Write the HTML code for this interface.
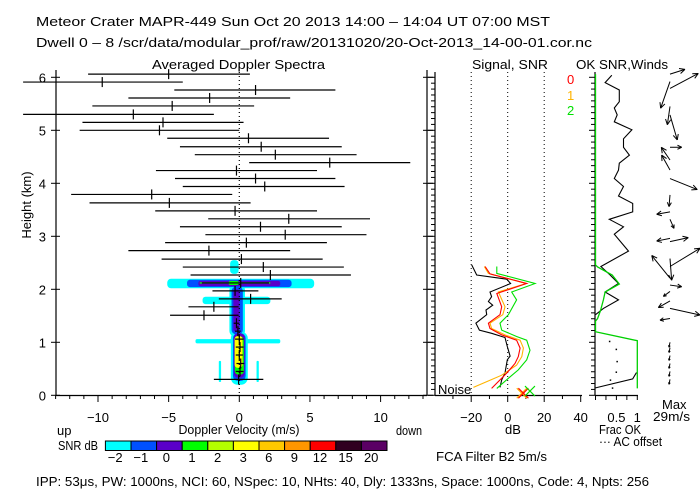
<!DOCTYPE html>
<html><head><meta charset="utf-8"><style>
html,body{margin:0;padding:0;background:#fff;}
svg{display:block;font-family:"Liberation Sans",sans-serif;}
text{fill:#000;font-size:13px;}
</style></head><body>
<svg id="chart" width="700" height="500" viewBox="0 0 700 500" xmlns="http://www.w3.org/2000/svg">
<rect x="0" y="0" width="700" height="500" fill="#fff"/>
<text x="36" y="26" textLength="514" lengthAdjust="spacingAndGlyphs" font-size="14">Meteor Crater   MAPR-449   Sun Oct 20 2013 14:00  –  14:04 UT 07:00 MST</text>
<text x="36" y="47" textLength="556" lengthAdjust="spacingAndGlyphs" font-size="14">Dwell   0  –   8    /scr/data/modular_prof/raw/20131020/20-Oct-2013_14-00-01.cor.nc</text>
<text x="152" y="69" textLength="173" lengthAdjust="spacingAndGlyphs" font-size="14">Averaged Doppler Spectra</text>
<text x="472" y="69" textLength="76" lengthAdjust="spacingAndGlyphs" font-size="14">Signal, SNR</text>
<text x="576" y="69" textLength="92" lengthAdjust="spacingAndGlyphs" font-size="14">OK SNR,Winds</text>
<g id="plots"></g>
<text x="239" y="434" text-anchor="middle" textLength="121" lengthAdjust="spacingAndGlyphs">Doppler Velocity (m/s)</text>
<text x="57" y="435">up</text>
<text x="396" y="435" textLength="26" lengthAdjust="spacingAndGlyphs">down</text>
<text x="505" y="434">dB</text>
<text x="599" y="434" textLength="42" lengthAdjust="spacingAndGlyphs">Frac OK</text>
<text x="599" y="446" textLength="63" lengthAdjust="spacingAndGlyphs">··· AC offset</text>
<text x="662" y="409">Max</text>
<text x="653" y="421" textLength="37" lengthAdjust="spacingAndGlyphs">29m/s</text>
<text x="58" y="450" textLength="40" lengthAdjust="spacingAndGlyphs">SNR dB</text>
<text x="436" y="461" textLength="111" lengthAdjust="spacingAndGlyphs">FCA Filter B2   5m/s</text>
<text x="36" y="486" textLength="613" lengthAdjust="spacingAndGlyphs">IPP:  53μs,  PW: 1000ns,  NCI:  60,  NSpec: 10, NHts: 40,  Dly: 1333ns,  Space: 1000ns,  Code: 4,  Npts: 256</text>
<text x="0" y="0" transform="translate(31,205) rotate(-90)" text-anchor="middle">Height (km)</text>
<text x="438" y="394">Noise</text>
</svg>
<script>
// ---- data ----
var barHeights=[6.06,5.91,5.76,5.61,5.46,5.30,5.15,5.00,4.85,4.69,4.54,4.39,4.24,4.09,3.94,3.79,3.63,3.48,3.33,3.18,3.03,2.88,2.73,2.57,2.42,2.27,2.12,1.97,1.82,1.67,1.51,1.36,1.21,1.06,0.91,0.76,0.60,0.45,0.30];
var barCenters=[-5.0,-9.7,1.15,-2.1,-4.75,-7.5,-5.4,-5.65,0.65,1.55,2.55,6.4,-0.2,1.15,1.8,-6.2,-4.95,-0.3,3.5,1.5,3.25,0.5,-2.15,0.15,1.7,2.2,0.1,-0.3,0.8,-1.8,-2.5,-0.2,-0.1,0.0,0.05,0.0,0.1,0.05,-0.05];
var barLefts=[-10.7,-15.3,-4.6,-7.85,-10.4,-15.3,-11.1,-11.3,-5.1,-4.2,-3.15,0.7,-5.9,-4.55,-4.0,-11.9,-10.6,-5.95,-2.2,-4.2,-2.4,-5.25,-7.85,-5.5,-4.0,-3.45,-2.65,-1.9,-1.45,-3.6,-4.9,-0.4,-0.3,-0.3,-0.25,-0.25,-0.2,-0.25,-1.8];
var barRights=[0.75,-4.0,6.8,3.6,1.05,-1.8,0.3,0.0,6.35,7.25,8.3,12.1,5.5,6.8,7.45,-0.5,0.8,5.5,9.25,7.25,9.0,6.2,3.6,5.9,7.4,7.9,2.1,1.35,3.0,-0.05,-0.05,0.0,0.1,0.3,0.3,0.25,0.35,0.3,1.7];
var velTicks=[-10,-5,0,5,10];
var heightTicks=[0,1,2,3,4,5,6];
var dbTicks=[-20,0,20,40];
var fracTicks=[0.5,1];
var snrLevels=["-2","-1","0","1","2","3","6","9","12","15","20"];
var snrColors=["#00ffff","#0050ff","#5a00c8","#00ff00","#b4ff00","#ffff00","#ffc800","#ff9600","#ff0000","#300020","#5a0064"];
// contour blobs: velocity, height, half-width, half-height, level index
var blobV=[0.1,-0.35,-0.2,-0.15,-0.1,0.0,-1.37,1.3,0.0,-0.15,0.0,0.0,-0.2,0.0,-0.4,-0.3,0.0,-0.05];
var blobK=[2.11,2.42,1.79,1.6,1.02,0.7,0.45,0.45,2.11,1.6,0.72,2.11,1.6,0.75,2.12,2.12,0.75,0.82];
var blobRV=[5.2,0.3,2.4,0.55,3.0,0.6,0.08,0.08,3.7,0.4,0.45,2.9,0.22,0.38,0.35,2.5,0.32,0.28];
var blobRK=[0.09,0.13,0.07,0.5,0.04,0.5,0.2,0.2,0.07,0.45,0.45,0.05,0.4,0.42,0.04,0.012,0.36,0.3];
var blobL=[0,0,0,0,0,0,0,0,1,1,1,2,2,2,3,3,3,5];
// signal panel (dB vs km)
var blackKm=[2.46,2.27,2.19,2.11,1.95,1.86,1.77,1.70,1.61,1.52,1.36,1.23,1.17,1.09,0.92,0.74,0.67,0.54,0.42,0.29,0.15];
var blackDb=[-19.7,-17.0,-0.5,1.6,-9.7,-8.8,-10.6,-8.2,-11.9,-11.5,-17.4,-15.5,-8.8,-1.5,-0.2,1.3,-0.2,-0.9,-1.5,-3.3,-4.2];
var redKm=[2.43,2.29,2.11,1.92,1.67,1.52,1.36,1.26,1.14,1.04,0.89,0.73,0.60,0.42,0.13];
var redDb=[-12.4,-9.7,10.4,-6.0,-3.3,-4.2,-10.6,-9.7,-3.3,4.9,6.8,5.8,4.0,-0.5,-8.8];
var orangeKm=[2.43,2.30,2.11,1.95,1.67,1.52,1.36,1.26,1.14,1.04,0.89,0.73,0.57,0.38,0.15];
var orangeDb=[-12.8,-10.6,10.0,-5.1,-1.5,-2.7,-9.7,-8.8,-1.5,6.8,8.6,7.7,4.9,-3.3,-18.8];
var greenKm=[2.43,2.30,2.11,1.95,1.80,1.52,1.36,1.23,1.11,1.04,0.85,0.67,0.48,0.35,0.13];
var greenDb=[-6.0,-6.0,15.0,2.2,4.9,0.4,-4.2,-3.3,4.9,10.4,12.2,10.4,5.8,1.3,-6.0];
var noiseDb=[7.7,8.6,12.2];
var noiseKm=[0.04,0.04,0.08];
// winds panel
var okSnrKm=[6.04,5.90,5.76,5.54,5.42,5.29,5.16,5.01,4.84,4.68,4.53,4.38,4.25,4.09,3.94,3.76,3.62,3.46,3.32,3.18,3.04,2.72,2.43,2.27,2.11,1.95,1.80,1.64,1.52];
var okSnrVal=[0.39,0.23,0.57,0.57,0.45,0.52,0.45,0.87,0.67,0.67,0.81,0.57,0.55,0.45,0.67,0.55,0.89,0.89,0.33,0.67,0.45,0.79,0.13,0.35,0.55,0.23,0.55,0.19,0.0];
var lowSnrKm=[0.14,0.31,0.43];
var lowSnrVal=[0.0,0.89,0.98];
var fracKm=[6.06,2.46,2.42,2.27,2.10,1.95,1.80,1.60,1.45,1.40,1.20,1.03,0.13];
var fracVal=[0.0,0.0,0.05,0.40,0.57,0.23,0.19,0.12,0.05,0.0,0.0,1.0,1.0];
var acKm=[1.03,0.88,0.65,0.45,0.3,0.15];
var acVal=[0.32,0.48,0.5,0.48,0.34,0.39];
var windKm=[6.06,5.79,5.92,5.45,5.29,4.68,4.44,4.25,4.09,3.78,3.46,3.32,2.96,2.90,2.43,2.21,2.58,2.08,1.96,1.78,1.64,1.45,1.0,0.9,0.75,0.6,0.45,0.3];
var windU=[13.6,25.7,-8.5,-2.4,6.6,10.6,-7.9,-7.6,24.8,-0.9,-12.1,3.6,-12.1,16.6,27.3,-16.6,1.5,10.6,-6,-10.6,27.3,-9.1,-0.9,-0.9,-0.9,-0.9,-0.9,-0.9];
var windV=[4.3,13.6,-24.2,-16.6,-22.7,0,11.5,13.6,-10,-10.6,-2.1,-8.2,-2.4,3.6,16.6,20.6,-19.7,-1.5,-4.5,-6,-6,-1.5,-4.5,-4.5,-4.5,-4.5,-4.5,-4.5];

// ---- scales ----
function xV(v){return 239.3+v*14.13;}
function yK(k){return 395.3-k*53;}
function xDB(d){return 507.7+d*1.825;}
function xF(f){return 595.5+f*41.8;}
var WS=1.1, WX=670;

var NS="http://www.w3.org/2000/svg";
var root=document.getElementById('plots');
function mk(tag,attrs,parent){var e=document.createElementNS(NS,tag);for(var k in attrs)e.setAttribute(k,attrs[k]);(parent||root).appendChild(e);return e;}
function line(x1,y1,x2,y2,st,w,parent,dash){var e=mk('line',{x1:x1,y1:y1,x2:x2,y2:y2,stroke:st||'#000','stroke-width':w||1},parent);if(dash)e.setAttribute('stroke-dasharray',dash);return e;}

// contour blobs
var gC=mk('g',{});


for(var i=0;i<blobV.length;i++){
  var cx=xV(blobV[i]), cy=yK(blobK[i]), rx=blobRV[i]*14.13, ry=blobRK[i]*53;
  var rr=Math.min(rx,ry)*0.8;
  var e=mk('rect',{x:cx-rx,y:cy-ry,width:2*rx,height:2*ry,rx:rr,ry:rr,fill:snrColors[blobL[i]]},gC);
  
  
}
// zero line
var z=line(xV(0),72,xV(0),395,'#000',1.2,null,'1 3');



// error bars
var gB=mk('g',{});


for(var i=0;i<barHeights.length;i++){
  var y=yK(barHeights[i]);
  var h=line(xV(barLefts[i]),y,xV(barRights[i]),y,'#000',1.2,gB);
  
  
  var c=line(xV(barCenters[i]),y-5,xV(barCenters[i]),y+5,'#000',1.2,gB);
  
  
}

// main axes
var gA=mk('g',{});


line(56,70,56,395.5,'#000',1.2,gA);line(427,70,427,395.5,'#000',1.2,gA);line(56,395.5,427,395.5,'#000',1.2,gA);
for(var v=-13;v<=13;v++){var big=(v%5===0);line(xV(v),395.5,xV(v),big?402:399,'#000',1,gA);}
for(var i=0;i<velTicks.length;i++){var t=mk('text',{x:xV(velTicks[i]),y:422,'text-anchor':'middle'},gA);t.textContent=velTicks[i]<0?'−'+(-velTicks[i]):velTicks[i];

}
for(var i=0;i<heightTicks.length;i++){var y=yK(heightTicks[i]);line(51,y,60,y,'#000',1,gA);line(423,y,433,y,'#000',1,gA);
var t=mk('text',{x:46,y:y+5,'text-anchor':'end'},gA);t.textContent=heightTicks[i];

}

// signal panel axes
var gS=mk('g',{});


line(435,72,435,395.5,'#000',1.2,gS);line(435,395.5,582,395.5,'#000',1.2,gS);
line(595,72,595,395.5,'#000',1.2,gS);line(595,395.5,638,395.5,'#000',1.2,gS);
for(var k=0;k<=6.1;k+=1/9){var y=yK(k);var maj=Math.abs(k-Math.round(k))<0.01;line(maj?428:431,y,435,y,'#000',1,gS);line(maj?589:591,y,595,y,'#000',1,gS);}
for(var d=-30;d<=40;d+=10){line(xDB(d),395.5,xDB(d),(d%20===0)?402:399,'#000',1,gS);}
for(var i=0;i<dbTicks.length;i++){var t=mk('text',{x:xDB(dbTicks[i]),y:422,'text-anchor':'middle'},gS);t.textContent=dbTicks[i]<0?'−'+(-dbTicks[i]):dbTicks[i];

}
for(var f=0;f<=1.001;f+=0.25){line(xF(f),395.5,xF(f),400,'#000',1,gS);}
for(var i=0;i<fracTicks.length;i++){var t=mk('text',{x:xF(fracTicks[i]),y:422,'text-anchor':'middle'},gS);t.textContent=fracTicks[i];

}
[-20,0,20].forEach(function(d){var l=line(xDB(d),72,xDB(d),395,'#000',1,gS,'1 3');

});

function poly(xs,ys,col,name,parent,w){var pts=[];for(var i=0;i<xs.length;i++)pts.push(xs[i].toFixed(1)+','+ys[i].toFixed(1));
var p=mk('polyline',{points:pts.join(' '),fill:'none',stroke:col,'stroke-width':w||1.1},parent);


return p;}
poly(blackDb.map(xDB),blackKm.map(yK),'#000','signal-line',gS);
poly(greenDb.map(xDB),greenKm.map(yK),'#00e000','snr-line-2',gS);
poly(orangeDb.map(xDB),orangeKm.map(yK),'#ffb400','snr-line-1',gS);
poly(redDb.map(xDB),redKm.map(yK),'#ff0000','snr-line-0',gS);
var ncol=['#ffb400','#ff0000','#00e000'];
for(var i=0;i<noiseDb.length;i++){var x=xDB(noiseDb[i]),y=yK(noiseKm[i]);
var a=line(x-5,y-5,x+5,y+5,ncol[i],1.1,gS);
var b=line(x-5,y+5,x+5,y-5,ncol[i],1.1,gS);}
var lg=[['0','#ff0000',84],['1','#ffb400',100],['2','#00e000',115]];
lg.forEach(function(L){var t=mk('text',{x:567,y:L[2],fill:L[1]},gS);t.setAttribute('style','fill:'+L[1]);t.textContent=L[0];

});

// winds panel
var gW=mk('g',{});


poly(okSnrVal.map(xF),okSnrKm.map(yK),'#000','ok-snr-line',gW);
poly(lowSnrVal.map(xF),lowSnrKm.map(yK),'#000','ok-snr-low-line',gW);
poly(fracVal.map(xF),fracKm.map(yK),'#00d000','frac-ok-line',gW,1.3);
for(var i=0;i<acKm.length;i++){var r=mk('rect',{x:xF(acVal[i]),y:yK(acKm[i]),width:1.5,height:1.5,fill:'#000'},gW);

}
for(var i=0;i<windKm.length;i++){
  var x0=WX,y0=yK(windKm[i]),x1=WX+windU[i]*WS,y1=y0-windV[i]*WS;
  var g=mk('g',{},gW);
  
  
  line(x0,y0,x1,y1,'#000',1,g);
  var ang=Math.atan2(y1-y0,x1-x0),len=Math.hypot(x1-x0,y1-y0),hl=Math.min(6,len*0.4);
  line(x1,y1,x1-hl*Math.cos(ang-0.45),y1-hl*Math.sin(ang-0.45),'#000',1,g);
  line(x1,y1,x1-hl*Math.cos(ang+0.45),y1-hl*Math.sin(ang+0.45),'#000',1,g);
}

// colorbar
var gCB=mk('g',{});


var cw=(387-105.4)/snrColors.length;
for(var i=0;i<snrColors.length;i++){
  var r=mk('rect',{x:105.4+i*cw,y:441,width:cw,height:9.5,fill:snrColors[i],stroke:'#000','stroke-width':1},gCB);
  
  
  var t=mk('text',{x:105.4+i*cw+cw/2-3,y:462,'text-anchor':'middle'},gCB);
  t.textContent=snrLevels[i].replace('-','−');
  
  
}
</script>
</body></html>
